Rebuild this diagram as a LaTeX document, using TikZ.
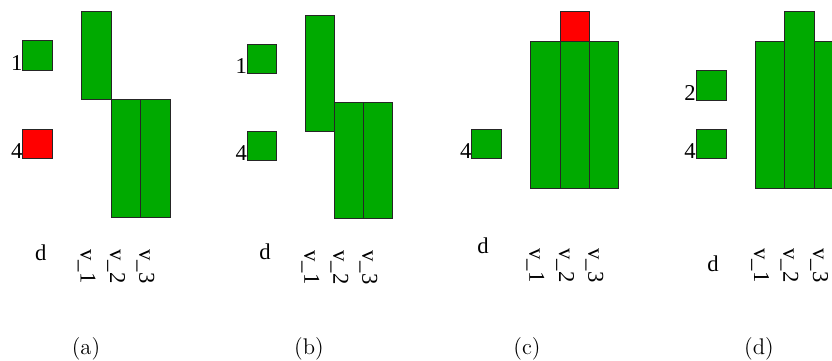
\documentclass[tikz,border=0pt]{standalone}
\usepackage{fontspec}
\newfontfamily\tnr{Liberation Serif}
\usepackage{tikz}
\definecolor{blkgreen}{RGB}{0,170,0}

\begin{document}
\begin{tikzpicture}[x=0.53pt,y=-0.53pt,
  every node/.style={inner sep=0pt},
  blk/.style={fill=blkgreen, draw=black!85, line width=0.5pt},
  hot/.style={fill=red, draw=black!85, line width=0.5pt},
  num/.style={anchor=base east, font=\tnr\fontsize{12}{14}\selectfont},
  dlab/.style={font=\tnr\fontsize{12}{14}\selectfont},
  vlab/.style={anchor=base west, rotate=-90, font=\tnr\fontsize{12}{14}\selectfont},
  subcap/.style={font=\large}]
\clip (0,0) rectangle (832,360);
\filldraw[blk] (22.7,40.7) rectangle (52.7,70.7);
\node[num] (a-one) at (22.7,70.7) {1};
\filldraw[hot] (22.7,129.3) rectangle (52.7,158.3);
\node[num] (a-four) at (22.7,158.3) {4};
\filldraw[blk] (81.7,11.7) rectangle (111,99.3);
\filldraw[blk] (111,99.3) rectangle (140.3,217.3);
\filldraw[blk] (140.3,99.3) rectangle (170,217.3);
\node[dlab] (a-d) at (40.7,252.5) {d};
\node[vlab] (a-v1) at (80.7,249) {v\_1};
\node[vlab] (a-v2) at (110,249) {v\_2};
\node[vlab] (a-v3) at (139.3,249) {v\_3};
\node[subcap] (cap-a) at (86,349) {(a)};
\filldraw[blk] (247.3,44) rectangle (276.7,73.3);
\node[num] (b-one) at (247.3,73.3) {1};
\filldraw[blk] (247.3,131.3) rectangle (276.7,160.3);
\node[num] (b-four) at (247.3,160.3) {4};
\filldraw[blk] (305.3,15) rectangle (334.3,131);
\filldraw[blk] (334.3,102.3) rectangle (363.3,218.3);
\filldraw[blk] (363.3,102.3) rectangle (392.3,218.3);
\node[dlab] (b-d) at (265,252) {d};
\node[vlab] (b-v1) at (304.3,250) {v\_1};
\node[vlab] (b-v2) at (333.3,250) {v\_2};
\node[vlab] (b-v3) at (362.3,250) {v\_3};
\node[subcap] (cap-b) at (309,349) {(b)};
\filldraw[blk] (471.7,129.3) rectangle (501.7,158.3);
\node[num] (c-four) at (471.7,158.3) {4};
\filldraw[blk] (530.3,41) rectangle (560,188.3);
\filldraw[blk] (560,41) rectangle (589.3,188.3);
\filldraw[hot] (560,11.7) rectangle (589.3,41);
\filldraw[blk] (589.3,41) rectangle (618.7,188.3);
\node[dlab] (c-d) at (483,246) {d};
\node[vlab] (c-v1) at (529.3,248) {v\_1};
\node[vlab] (c-v2) at (559,248) {v\_2};
\node[vlab] (c-v3) at (588.3,248) {v\_3};
\node[subcap] (cap-c) at (527,349) {(c)};
\filldraw[blk] (696,70) rectangle (726,100);
\node[num] (d-two) at (696,100) {2};
\filldraw[blk] (696,129.3) rectangle (726,158.7);
\node[num] (d-four) at (696,158.7) {4};
\filldraw[blk] (755,41) rectangle (784.3,188.3);
\filldraw[blk] (784.3,11.7) rectangle (814,188.3);
\filldraw[blk] (814,41) rectangle (843.5,188.3);
\node[dlab] (d-d) at (713,264) {d};
\node[vlab] (d-v1) at (754,248) {v\_1};
\node[vlab] (d-v2) at (783.3,248) {v\_2};
\node[vlab] (d-v3) at (813,248) {v\_3};
\node[subcap] (cap-d) at (759,349) {(d)};
\end{tikzpicture}
\end{document}
